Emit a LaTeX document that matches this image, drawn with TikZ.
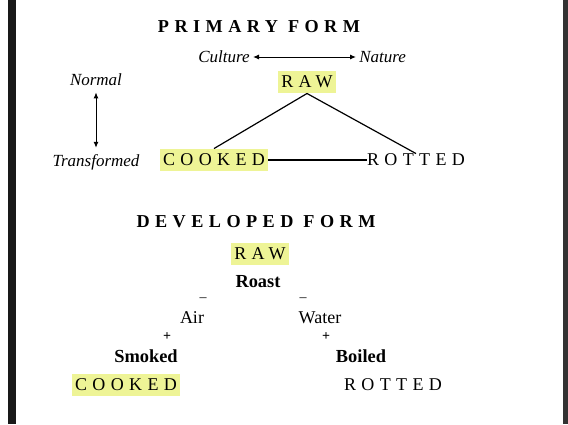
\documentclass[tikz,border=0pt]{standalone}
\usepackage{fontspec}
\setmainfont{Liberation Serif}
\newfontfamily\spacedfont[LetterSpace=30]{Liberation Serif}
\usetikzlibrary{arrows.meta, calc}
\definecolor{hiYellow}{RGB}{238,244,150}

\begin{document}
\begin{tikzpicture}[
        x=0.5pt, y=-0.5pt,
        every node/.style={inner sep=0pt},
        % letterspaced capitals for the three terms
        caps/.style={font=\spacedfont\fontsize{9}{11}\selectfont},
        heading/.style={font=\spacedfont\bfseries\fontsize{9.1}{11}\selectfont},
        marked/.style={caps, fill=hiYellow, inner xsep=1.5pt, inner ysep=2.5pt},
        pole/.style={font=\itshape\fontsize{8.5}{10}\selectfont},
        stage/.style={font=\bfseries\fontsize{9.2}{11}\selectfont},
        medium/.style={font=\fontsize{9}{11}\selectfont},
        sign/.style={font=\fontsize{7}{8}\selectfont},
        twoWay/.style={{Latex[length=3pt,width=2.5pt]}-{Latex[length=3pt,width=2.5pt]}, line width=0.5pt}
    ]
        % Page with its dark side bars
        \useasboundingbox (0,0) rectangle (568,424);
        \fill[white] (0,0) rectangle (568,424);
        \fill[black!90] (8,0) rectangle (16,424);
        \fill[black!80] (563,0) rectangle (568,424);

        % Primary form
        \node[heading] (primaryTitle) at (259,27) {PRIMARY FORM};
        \node[pole, anchor=east] (culture) at (250,57) {Culture};
        \node[pole, anchor=west] (nature) at (359,57) {Nature};
        \draw[twoWay] ($(culture.east)+(3,0)$) -- ($(nature.west)+(-3,0)$);
        \node[marked] (rawA) at (307,82) {RAW};
        \node[pole] (normal) at (96,80) {Normal};
        \node[pole] (transformed) at (96,162) {Transformed};
        \draw[twoWay] ($(normal.south)+(0,6)$) -- ($(transformed.north)+(0,-6)$);
        \node[marked] (cookedA) at (214,160) {COOKED};
        \node[caps] (rottedA) at (416,160) {ROTTED};
        \draw[line width=0.6pt] (rawA.south) -- (cookedA.north);
        \draw[line width=0.6pt] (rawA.south) -- (rottedA.north);
        \draw[line width=0.6pt] (cookedA.east) -- (rottedA.west);

        % Developed form
        \node[heading] (developedTitle) at (256,222) {DEVELOPED FORM};
        \node[marked] (rawB) at (260,254) {RAW};
        \node[stage] (roast) at (258,282) {Roast};
        \node[sign] (minusAir) at (203,300) {--};
        \node[sign] (minusWater) at (303,300) {--};
        \node[medium] (air) at (192,318) {Air};
        \node[medium] (water) at (320,318) {Water};
        \node[sign] (plusAir) at (167,337) {\textbf{+}};
        \node[sign] (plusWater) at (326,337) {\textbf{+}};
        \node[stage] (smoked) at (146,356) {Smoked};
        \node[stage] (boiled) at (361,356) {Boiled};
        \node[marked] (cookedB) at (126,385) {COOKED};
        \node[caps] (rottedB) at (393,385) {ROTTED};
    \end{tikzpicture}
\end{document}
